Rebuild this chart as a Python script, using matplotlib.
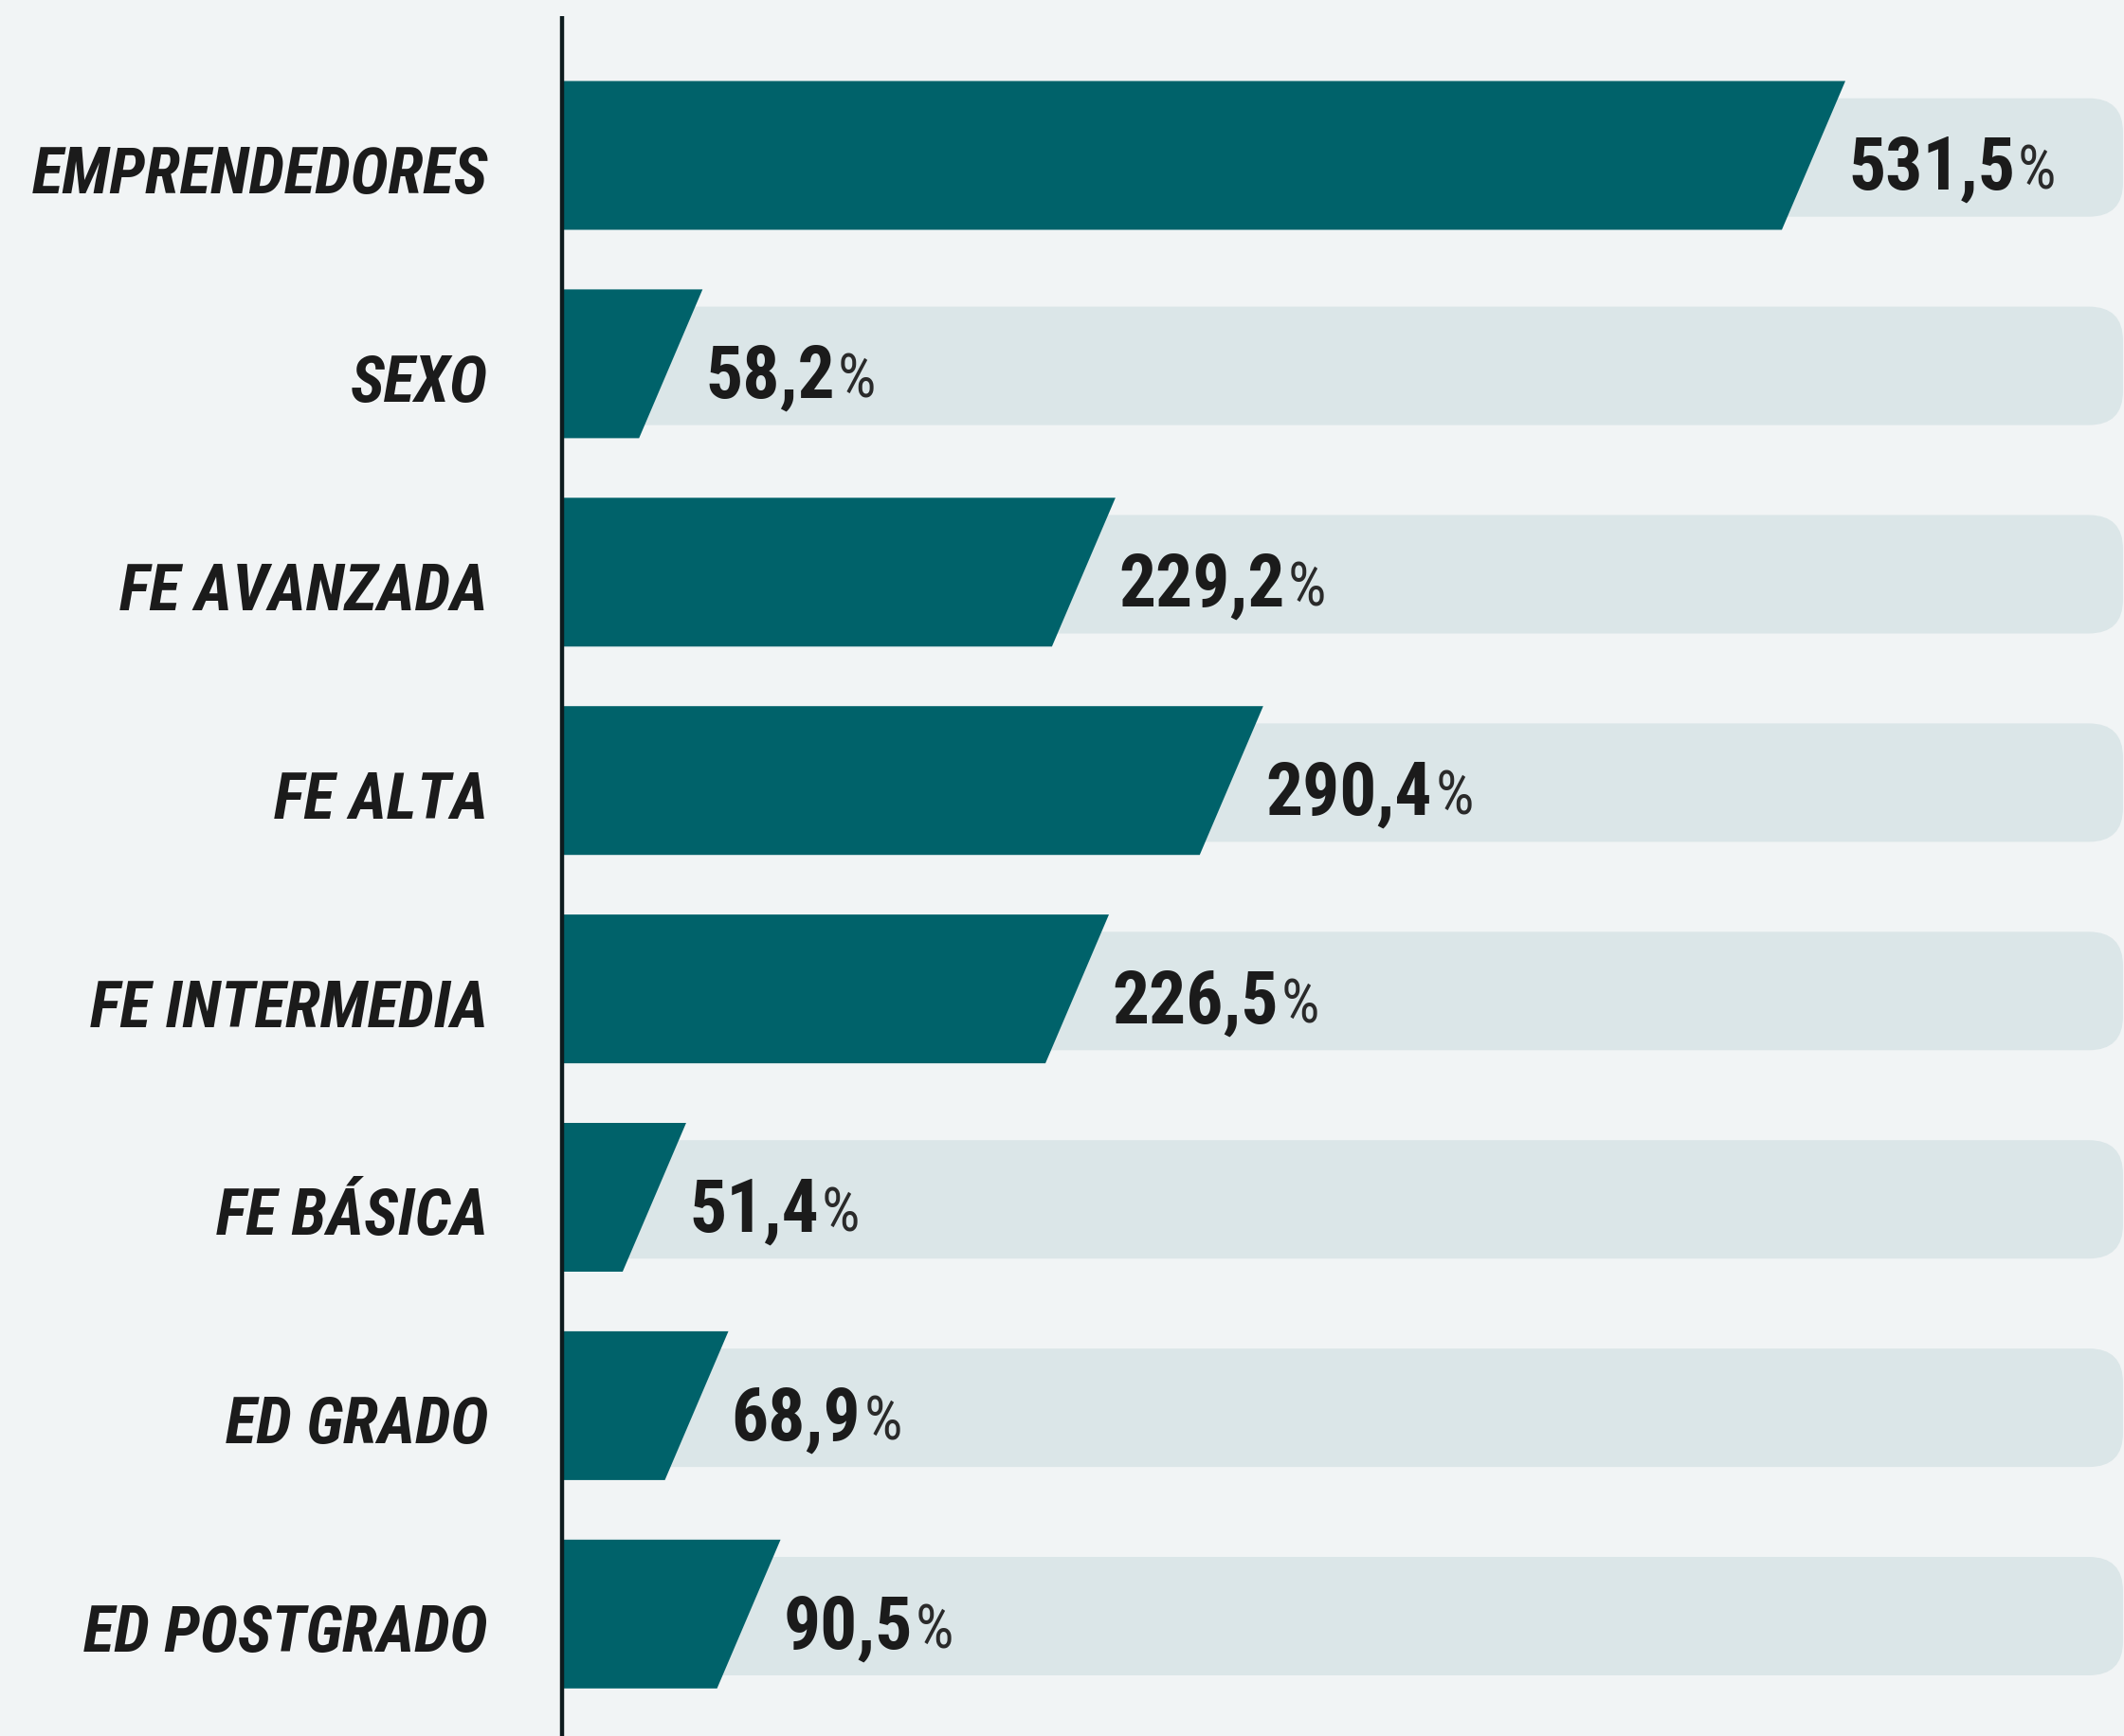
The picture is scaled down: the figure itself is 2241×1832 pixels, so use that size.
import matplotlib
matplotlib.use("Agg")
import matplotlib.pyplot as plt
from matplotlib.patches import Polygon, FancyBboxPatch
from matplotlib import font_manager as fm

categories = ["EMPRENDEDORES", "SEXO", "FE AVANZADA", "FE ALTA",
              "FE INTERMEDIA", "FE BÁSICA", "ED GRADO", "ED POSTGRADO"]
values = [531.5, 58.2, 229.2, 290.4, 226.5, 51.4, 68.9, 90.5]
value_labels = ["531,5", "58,2", "229,2", "290,4", "226,5", "51,4", "68,9", "90,5"]

W, H, DPI = 2241, 1832, 100
BG = "#f1f4f5"
PILL = "#dbe6e8"
BAR = "#00626a"
TXT = "#1b1b1b"


def find_font(bold, italic):
    prefs = ["roboto condensed", "liberation sans narrow", "open sans condensed",
             "noto sans condensed", "dejavu sans condensed", "dejavusanscondensed",
             "condensed", "narrow"]
    best = None
    best_rank = 99
    for f in fm.fontManager.ttflist:
        key = (f.name + " " + f.fname).lower()
        cond = ("condensed" in key or "narrow" in key or
                str(f.stretch) in ("condensed", "semi-condensed", "extra-condensed"))
        if not cond or "extra" in key:
            continue
        w = f.weight if isinstance(f.weight, int) else (700 if "bold" in str(f.weight) else 400)
        if bold and w < 600 or (not bold and w >= 600):
            continue
        if italic != (f.style != "normal"):
            continue
        rank = 50
        for r, p in enumerate(prefs):
            if p in key:
                rank = r
                break
        if rank < best_rank:
            best_rank, best = rank, f.fname
    return best


def props(bold, italic, size):
    path = find_font(bold, italic)
    if path:
        return fm.FontProperties(fname=path, size=size)
    return fm.FontProperties(family=["Roboto", "DejaVu Sans"], size=size,
                             weight="bold" if bold else "normal",
                             style="italic" if italic else "normal")


fig = plt.figure(figsize=(W / DPI, H / DPI), dpi=DPI, facecolor=BG)
ax = fig.add_axes([0, 0, 1, 1])
ax.set_facecolor(BG)

x0_px, px_per_unit = 593, 1354 / 531.5
y0_px, row_px = 164, 219.9
ax.set_xlim(-x0_px / px_per_unit, (W - x0_px) / px_per_unit)
ax.set_ylim((H - y0_px) / row_px, -y0_px / row_px)
ax.axis("off")

bar_h = 157 / row_px
pill_h = 125 / row_px
slant = 67 / px_per_unit
pill_end = (2240 - x0_px) / px_per_unit
r_px = 36
aspect = px_per_unit / row_px

renderer = fig.canvas.get_renderer()


def fit(fp, text, target_w, max_size):
    t = fig.text(0, 0, text, fontproperties=fp)
    wpx = t.get_window_extent(renderer).width
    t.remove()
    fp.set_size(min(max_size, fp.get_size() * target_w / wpx))


lab_fp = props(True, True, 50)
fit(lab_fp, categories[0], 482, 57)

val_fp = props(True, False, 60)
fit(val_fp, value_labels[0], 176, 64)

pct_fp = props(False, False, 46)

for i, (cat, v, lab) in enumerate(zip(categories, values, value_labels)):
    pill = FancyBboxPatch((0, i - pill_h / 2 + 0.01), pill_end, pill_h,
                          boxstyle=f"round,pad=0,rounding_size={r_px / px_per_unit}",
                          mutation_aspect=aspect, fc=PILL, ec="none", zorder=1)
    ax.add_patch(pill)
    top, bot = i - bar_h / 2, i + bar_h / 2
    poly = Polygon([(0, top), (v, top), (v - slant, bot), (0, bot)],
                   closed=True, fc=BAR, ec="none", zorder=2)
    ax.add_patch(poly)
    ax.text(-(x0_px - 515) / px_per_unit, i + 40 / row_px, cat,
            ha="right", va="baseline", fontproperties=lab_fp, color=TXT, zorder=3)
    t = ax.text(v + 3 / px_per_unit, i + 36 / row_px, lab,
                ha="left", va="baseline", fontproperties=val_fp, color=TXT, zorder=3)
    bb = t.get_window_extent(renderer)
    xr = ax.transData.inverted().transform((bb.x1, bb.y0))[0]
    ax.text(xr + 3 / px_per_unit, i + 36 / row_px, "%",
            ha="left", va="baseline", fontproperties=pct_fp, color="#2a2a2a", zorder=3)

ax.plot([0, 0], [-(y0_px - 17) / row_px, (H - y0_px) / row_px],
        color="#0d1b1e", lw=3.2, solid_capstyle="butt", zorder=4)

fig.savefig("out.png", dpi=DPI, facecolor=BG)
